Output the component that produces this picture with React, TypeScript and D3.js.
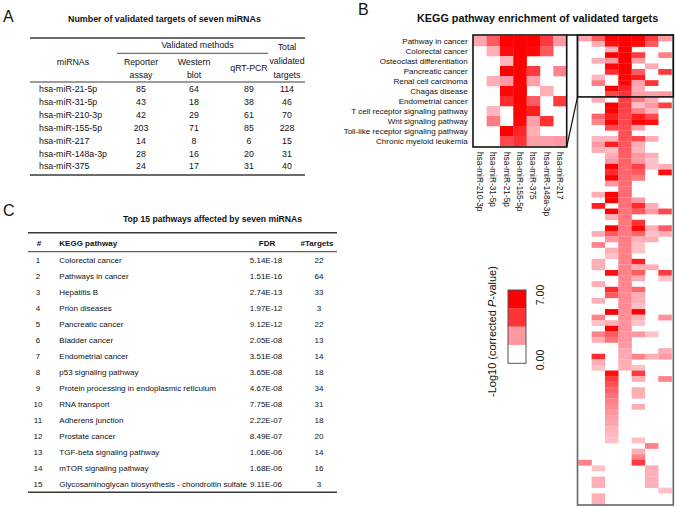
import React from "react";
import * as d3 from "d3";

const FONT = "'Liberation Sans', Arial, Helvetica, sans-serif";

// ---------- Panel A data ----------
const mirnaNames = ["hsa-miR-21-5p", "hsa-miR-31-5p", "hsa-miR-210-3p", "hsa-miR-155-5p", "hsa-miR-217", "hsa-miR-148a-3p", "hsa-miR-375"];
const reporterAssay = [85, 43, 42, 203, 14, 28, 24];
const westernBlot = [64, 18, 29, 71, 8, 16, 17];
const qrtPcr = [89, 38, 61, 85, 6, 20, 31];
const totalTargets = [114, 46, 70, 228, 15, 31, 40];

// ---------- Panel B data ----------
const heatmapMirnas = ["hsa-miR-210-3p", "hsa-miR-31-5p", "hsa-miR-21-5p", "hsa-miR-155-5p", "hsa-miR-375", "hsa-miR-148a-3p", "hsa-miR-217"];
const zoomPathways = ["Pathway in cancer", "Colorectal cancer", "Osteoclast differentiation", "Pancreatic cancer", "Renal cell carcinoma", "Chagas disease", "Endometrial cancer", "T cell receptor signaling pathway", "Wnt signaling pathway", "Toll-like receptor signaling pathway", "Chronic myeloid leukemia"];
// -log10(corrected P) per pathway row, columns in heatmapMirnas order
const enrichment = [
  [2.5, 4.5, 7, 7, 7, 5.4, 2.8],
  [0, 2.2, 6.6, 7, 6.8, 4.5, 0],
  [0, 0, 2, 7, 0, 0, 0],
  [0, 0, 7, 7, 5.4, 0, 3.4],
  [0, 2.2, 2.8, 7, 2.6, 0, 0],
  [0, 0, 6.8, 7, 0, 2.2, 0],
  [0, 0, 5.8, 7, 4.5, 0, 5.4],
  [0, 2, 0, 6.9, 6.2, 0, 0],
  [0, 3.6, 0, 6.8, 2.6, 5.6, 0],
  [0, 0, 7, 6, 2.2, 0, 0],
  [0, 0, 5, 5.6, 2.6, 2.6, 2.8],
  [0, 2.2, 0, 5.3, 3.6, 2.2, 0],
  [0, 0, 7, 5.3, 1.7, 2.8, 5.2],
  [0, 0, 7, 5.2, 3.4, 2, 0],
  [0, 4.2, 6.2, 5.1, 6.2, 5, 0],
  [0, 3.4, 7, 5, 7, 6.6, 0],
  [0, 0, 5, 4.9, 2.6, 0, 0],
  [0, 0, 0, 4.8, 0, 0, 0],
  [0, 2, 2, 4.7, 5, 2.2, 0],
  [0, 2.8, 6.2, 4.6, 2.2, 0, 0],
  [0, 2.2, 1.7, 4.5, 2, 0, 0],
  [0, 0, 2.2, 4.4, 2.8, 2.2, 0],
  [0, 0, 2.8, 4.3, 2.8, 1.7, 0],
  [0, 0, 7, 4.2, 5.2, 1.7, 2.2],
  [0, 0, 5.8, 4.2, 4.5, 0, 6.6],
  [0, 0, 7, 4.1, 3.6, 0, 0],
  [0, 0, 2.8, 4.1, 0, 0, 0],
  [0, 0, 0, 4, 0, 0, 0],
  [0, 2.2, 7, 4, 0, 0, 0],
  [0, 0, 7, 3.9, 2.8, 0, 0],
  [0, 6.2, 0, 3.9, 5.8, 2.2, 0],
  [0, 0, 7, 3.8, 4.5, 2.8, 5],
  [0, 0, 2.2, 3.8, 0, 0, 0],
  [0, 0, 0, 3.7, 5.6, 0, 0],
  [0, 0, 7, 3.7, 6.8, 2.2, 4.5],
  [0, 2.2, 4.5, 3.6, 4.2, 1.7, 2.2],
  [0, 0, 2.8, 3.6, 2.2, 2.2, 0],
  [0, 3.4, 0, 3.5, 1.7, 0, 0],
  [0, 0, 2.2, 3.5, 1.7, 0, 0],
  [0, 0, 1.7, 3.5, 0, 0, 0],
  [0, 2.2, 0, 3.4, 6.2, 0, 0],
  [0, 2.2, 0, 3.4, 2.2, 2.2, 0],
  [0, 0, 6.6, 3.4, 4.5, 0, 5.4],
  [0, 0, 0, 3.3, 2.2, 0, 1.7],
  [0, 2.2, 0, 3.3, 0, 0, 0],
  [0, 0, 5.8, 3.3, 4.2, 0, 0],
  [0, 0, 4.5, 3.2, 2.2, 0, 0],
  [0, 2.2, 0, 3.2, 2.2, 0, 0],
  [0, 0, 0, 3.2, 1.7, 0, 0],
  [0, 0, 7, 3.1, 7, 0, 0],
  [0, 3.4, 0, 3.1, 2.2, 0, 3],
  [0, 1.7, 2.2, 3, 1.7, 0, 0],
  [0, 0, 7, 3, 0, 0, 0],
  [0, 3.4, 4.5, 2.9, 2.8, 1.7, 0],
  [0, 2.2, 3.8, 2.9, 0, 0, 0],
  [0, 0, 0, 2.8, 0, 0, 0],
  [0, 0, 0, 2.4, 0, 0, 2.2],
  [0, 5.8, 0, 2.3, 3.4, 2.2, 2.8],
  [0, 2.2, 0, 2.2, 0, 0, 0],
  [0, 1.7, 0, 2.1, 1.7, 0, 0],
  [0, 0, 6.6, 0, 5.4, 0, 0],
  [0, 0, 5.4, 0, 2.2, 0, 3.4],
  [0, 0, 4.8, 0, 0, 0, 0],
  [0, 0, 4.3, 0, 2.2, 0, 0],
  [0, 0, 3.9, 0, 2.2, 0, 0],
  [0, 0, 3.5, 0, 0, 0, 0],
  [0, 0, 3.2, 0, 2.2, 0, 0],
  [0, 0, 2.9, 0, 0, 0, 0],
  [0, 0, 2.6, 0, 0, 0, 0],
  [0, 0, 2.4, 0, 0, 0, 0],
  [0, 0, 2.1, 0, 0, 0, 0],
  [0, 0, 1.9, 0, 0, 0, 0],
  [0, 0, 1.7, 0, 1.7, 0, 0],
  [0, 0, 0, 0, 0, 3.4, 0],
  [0, 0, 0, 0, 2.2, 0, 0],
  [0, 0, 0, 0, 3.4, 0, 0],
  [3.4, 0, 0, 0, 5.4, 0, 0],
  [0, 1.7, 0, 0, 0, 2.2, 0],
  [0, 0, 0, 0, 0, 2.2, 0],
  [0, 2.2, 0, 0, 0, 2.2, 0],
  [0, 2.2, 0, 0, 0, 2.2, 0],
  [0, 0, 0, 0, 0, 0, 1.7],
  [0, 2.2, 0, 0, 0, 0, 0],
  [0, 2.2, 0, 0, 0, 0, 0],
];
const legendValues = [7, 5.6, 2.8, 0];
const legendTicks = ["7.00", "0.00"];

// ---------- Panel C data ----------
const pathwayRank = [1, 2, 3, 4, 5, 6, 7, 8, 9, 10, 11, 12, 13, 14, 15];
const pathwayNames = ["Colorectal cancer", "Pathways in cancer", "Hepatitis B", "Prion diseases", "Pancreatic cancer", "Bladder cancer", "Endometrial cancer", "p53 signaling pathway", "Protein processing in endoplasmic reticulum", "RNA transport", "Adherens junction", "Prostate cancer", "TGF-beta signaling pathway", "mTOR signaling pathway", "Glycosaminoglycan biosynthesis - chondroitin sulfate"];
const pathwayFdr = ["5.14E-18", "1.51E-16", "2.74E-13", "1.97E-12", "9.12E-12", "2.05E-08", "3.51E-08", "3.65E-08", "4.67E-08", "7.75E-08", "2.22E-07", "8.49E-07", "1.06E-06", "1.68E-06", "9.11E-06"];
const pathwayTargets = [22, 64, 33, 3, 22, 13, 14, 18, 34, 31, 18, 20, 14, 16, 3];

const LINE = "#3a3a3a";
const FA = 8.8; // table A font size
const FC = 8; // table C font size

export default function App() {
  const color = d3
    .scaleLinear<string>()
    .domain([0, 2.8, 7])
    .range(["#ffffff", "#ff98a2", "#ff0000"])
    .clamp(true);

  // Panel A scales
  const aRowY = d3.scalePoint<string>().domain(mirnaNames).range([89, 166.4]);
  const aColX = { reporter: 141, western: 194, qrt: 249, total: 287 };

  // Panel B scales
  const zoomX = d3.scaleBand<string>().domain(heatmapMirnas).range([473.3, 566.6]);
  const zoomY = d3.scaleBand<string>().domain(zoomPathways).range([36, 146]);
  const bigX = d3.scaleBand<string>().domain(heatmapMirnas).range([578.3, 671.6]);
  const bigY = d3.scaleBand<number>().domain(d3.range(enrichment.length)).range([35.5, 504.5]);
  const legendY = d3.scaleBand<number>().domain(d3.range(legendValues.length)).range([290, 363.3]);

  // Panel C scales
  const cRowY = d3.scalePoint<number>().domain(pathwayRank).range([260.3, 484]);

  const txt = { fontFamily: FONT, fill: "#111" } as const;
  const mid = { textAnchor: "middle", dominantBaseline: "central" } as const;

  return (
    <svg
      width={675}
      height={508}
      style={{ position: "absolute", left: 0, top: 0, background: "#fff" }}
      fontFamily={FONT}
    >
      <rect x={0} y={0} width={675} height={508} fill="#fff" />

      {/* ---------------- Panel A ---------------- */}
      <text x={3} y={22} fontSize={16} {...txt}>A</text>
      <text x={68} y={19} fontSize={8.9} fontWeight="bold" dominantBaseline="central" {...txt}>
        Number of validated targets of seven miRNAs
      </text>
      <line x1={30} x2={305} y1={38} y2={38} stroke={LINE} strokeWidth={1.5} />
      <text x={197.5} y={45} fontSize={FA} {...mid} {...txt}>Validated methods</text>
      <line x1={117} x2={268} y1={53.3} y2={53.3} stroke={LINE} strokeWidth={0.9} />
      <text x={73} y={61.7} fontSize={FA} {...mid} {...txt}>miRNAs</text>
      <text x={aColX.reporter} y={62} fontSize={FA} {...mid} {...txt}>Reporter</text>
      <text x={aColX.reporter} y={75} fontSize={FA} {...mid} {...txt}>assay</text>
      <text x={aColX.western} y={62} fontSize={FA} {...mid} {...txt}>Western</text>
      <text x={aColX.western} y={75} fontSize={FA} {...mid} {...txt}>blot</text>
      <text x={aColX.qrt} y={68} fontSize={FA} {...mid} {...txt}>qRT-PCR</text>
      <text x={aColX.total} y={47} fontSize={FA} {...mid} {...txt}>Total</text>
      <text x={aColX.total} y={61} fontSize={FA} {...mid} {...txt}>validated</text>
      <text x={aColX.total} y={74.5} fontSize={FA} {...mid} {...txt}>targets</text>
      <line x1={30} x2={305} y1={82} y2={82} stroke={LINE} strokeWidth={1} />
      {mirnaNames.map((m, i) => {
        const y = aRowY(m) as number;
        return (
          <g key={m}>
            <text x={39} y={y} fontSize={FA} dominantBaseline="central" {...txt}>{m}</text>
            <text x={aColX.reporter} y={y} fontSize={FA} {...mid} {...txt}>{reporterAssay[i]}</text>
            <text x={aColX.western} y={y} fontSize={FA} {...mid} {...txt}>{westernBlot[i]}</text>
            <text x={aColX.qrt} y={y} fontSize={FA} {...mid} {...txt}>{qrtPcr[i]}</text>
            <text x={aColX.total} y={y} fontSize={FA} {...mid} {...txt}>{totalTargets[i]}</text>
          </g>
        );
      })}
      <line x1={30} x2={305} y1={175} y2={175} stroke={LINE} strokeWidth={1.5} />

      {/* ---------------- Panel B ---------------- */}
      <text x={358} y={15} fontSize={16} {...txt}>B</text>
      <text x={417} y={18.3} fontSize={10.8} fontWeight="bold" dominantBaseline="central" {...txt}>
        KEGG pathway enrichment of validated targets
      </text>

      {/* zoomed heatmap */}
      {zoomPathways.map((p, r) => (
        <g key={p}>
          <text
            x={467.7}
            y={(zoomY(p) as number) + zoomY.bandwidth() / 2}
            fontSize={8}
            textAnchor="end"
            dominantBaseline="central"
            {...txt}
          >
            {p}
          </text>
          {heatmapMirnas.map((m, c) =>
            enrichment[r][c] > 0 ? (
              <rect
                key={m}
                x={zoomX(m)}
                y={zoomY(p)}
                width={zoomX.bandwidth() + 0.3}
                height={zoomY.bandwidth() + 0.3}
                fill={color(enrichment[r][c])}
              />
            ) : null
          )}
        </g>
      ))}
      <rect x={473} y={35} width={93.7} height={112} fill="none" stroke="#111" strokeWidth={1.6} />
      {heatmapMirnas.map((m) => (
        <text
          key={m}
          transform={`translate(${(zoomX(m) as number) + zoomX.bandwidth() / 2},152) rotate(90)`}
          fontSize={8.3}
          dominantBaseline="central"
          {...txt}
        >
          {m}
        </text>
      ))}

      {/* full heatmap */}
      {enrichment.map((row, r) =>
        row.map((v, c) =>
          v > 0 ? (
            <rect
              key={`${r}-${c}`}
              x={bigX(heatmapMirnas[c])}
              y={bigY(r)}
              width={bigX.bandwidth() + 0.2}
              height={bigY.bandwidth() + 0.2}
              fill={color(v)}
            />
          ) : null
        )
      )}
      <rect x={577.5} y={35} width={95.8} height={470} fill="none" stroke="#666" strokeWidth={1.6} />
      <rect
        x={577.5}
        y={35}
        width={95.8}
        height={(bigY(zoomPathways.length) as number) - 35}
        fill="none"
        stroke="#111"
        strokeWidth={1.6}
      />
      <line x1={566.7} y1={35} x2={577.5} y2={35} stroke="#111" strokeWidth={1.6} />
      <line x1={566.7} y1={147} x2={577.5} y2={bigY(zoomPathways.length) as number} stroke="#111" strokeWidth={1.2} />

      {/* legend */}
      {legendValues.map((v, i) => (
        <rect
          key={i}
          x={508}
          y={legendY(i)}
          width={18}
          height={legendY.bandwidth() + 0.2}
          fill={color(v)}
        />
      ))}
      <rect x={508} y={290} width={18} height={73.3} fill="none" stroke="#555" strokeWidth={1} />
      <text transform="translate(540,295) rotate(-90)" fontSize={10.5} {...mid} {...txt}>
        {legendTicks[0]}
      </text>
      <text transform="translate(540,360) rotate(-90)" fontSize={10.5} {...mid} {...txt}>
        {legendTicks[1]}
      </text>
      <text transform="translate(491.7,397) rotate(-90)" fontSize={11} dominantBaseline="central" {...txt}>
        -Log10 (corrected <tspan fontStyle="italic">P</tspan>-value)
      </text>

      {/* ---------------- Panel C ---------------- */}
      <text x={3} y={216} fontSize={16} {...txt}>C</text>
      <text x={123} y={219} fontSize={8.6} fontWeight="bold" dominantBaseline="central" {...txt}>
        Top 15 pathways affected by seven miRNAs
      </text>
      <line x1={28} x2={337} y1={232.7} y2={232.7} stroke={LINE} strokeWidth={1.5} />
      <text x={39} y={243.7} fontSize={FC} fontWeight="bold" {...mid} {...txt}>#</text>
      <text x={59.3} y={243.7} fontSize={FC} fontWeight="bold" dominantBaseline="central" {...txt}>KEGG pathway</text>
      <text x={267} y={243.7} fontSize={FC} fontWeight="bold" {...mid} {...txt}>FDR</text>
      <text x={317} y={243.7} fontSize={FC} fontWeight="bold" {...mid} {...txt}>#Targets</text>
      <line x1={28} x2={337} y1={251.7} y2={251.7} stroke={LINE} strokeWidth={1} />
      {pathwayRank.map((k, i) => {
        const y = cRowY(k) as number;
        return (
          <g key={k}>
            <text x={38} y={y} fontSize={FC} {...mid} {...txt}>{k}</text>
            <text x={59.3} y={y} fontSize={FC} dominantBaseline="central" {...txt}>{pathwayNames[i]}</text>
            <text x={266} y={y} fontSize={FC} {...mid} {...txt}>{pathwayFdr[i]}</text>
            <text x={319} y={y} fontSize={FC} {...mid} {...txt}>{pathwayTargets[i]}</text>
          </g>
        );
      })}
      <line x1={28} x2={337} y1={492.3} y2={492.3} stroke={LINE} strokeWidth={1.5} />
    </svg>
  );
}
